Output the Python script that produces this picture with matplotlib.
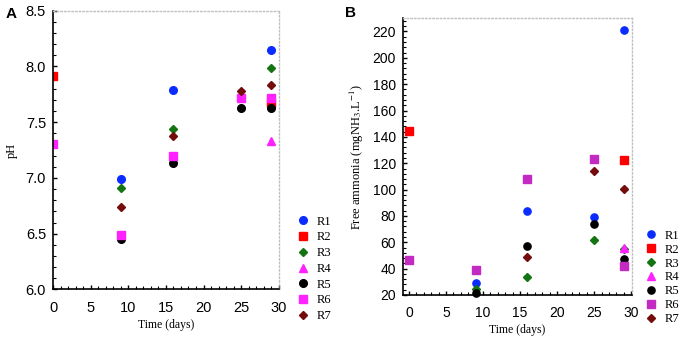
import numpy as np
import matplotlib
matplotlib.use("Agg")
import matplotlib.pyplot as plt
from matplotlib.ticker import MultipleLocator

nan = np.nan

# sampling days
days = [0, 9, 16, 25, 29]
reactors = ["R1", "R2", "R3", "R4", "R5", "R6", "R7"]

# panel A : pH
ph_R1 = [nan, 6.99, 7.79, nan, 8.15]
ph_R2 = [7.91, nan, nan, nan, 7.67]
ph_R3 = [nan, 6.91, 7.44, nan, 7.99]
ph_R4 = [nan, nan, nan, nan, 7.33]
ph_R5 = [nan, 6.45, 7.13, 7.63, 7.63]
ph_R6 = [7.30, 6.49, 7.20, 7.72, 7.72]
ph_R7 = [nan, 6.74, 7.38, 7.78, 7.83]

# panel B : free ammonia (mg NH3/L)
fa_R1 = [nan, 29.4, 84.0, 79.0, 221.0]
fa_R2 = [144.3, nan, nan, nan, 122.5]
fa_R3 = [nan, 24.6, 34.0, 61.6, 55.0]
fa_R4 = [nan, nan, nan, nan, 55.3]
fa_R5 = [nan, 21.8, 57.3, 73.5, 47.2]
fa_R6 = [46.4, 39.3, 108.0, 123.5, 41.8]
fa_R7 = [nan, nan, 49.2, 114.4, 100.7]

ph_data = [ph_R1, ph_R2, ph_R3, ph_R4, ph_R5, ph_R6, ph_R7]
fa_data = [fa_R1, fa_R2, fa_R3, fa_R4, fa_R5, fa_R6, fa_R7]

markers = ["o", "s", "D", "^", "o", "s", "D"]
msizes = [5.5, 5.5, 4.2, 6, 5.5, 5.5, 4.2]
colA = ["#0a2cff", "#ff0000", "#127512", "#ff22ff", "#000000", "#ff22ff", "#740c0c"]
colB = ["#0a2cff", "#ff0000", "#127512", "#ff22ff", "#000000", "#c22ac2", "#740c0c"]

plt.rcParams["mathtext.fontset"] = "stix"

fig = plt.figure(figsize=(6.8, 3.43), dpi=100)
axA = fig.add_axes([0.078, 0.156, 0.332, 0.813])
axB = fig.add_axes([0.5926, 0.140, 0.3368, 0.8066])


def style(ax, ylab, ysize):
    for s in ["left", "bottom"]:
        ax.spines[s].set_color("black")
        ax.spines[s].set_linewidth(1.2)
    for s in ["top", "right"]:
        ax.spines[s].set_color("#c0c0c0")
        ax.spines[s].set_linestyle(":")
        ax.spines[s].set_linewidth(1.0)
    ax.tick_params(which="both", direction="in", top=False, right=False,
                   labelsize=10.5, labelfontfamily="Liberation Sans")
    ax.tick_params(axis="y", which="both", pad=5)
    ax.tick_params(axis="x", which="both", pad=8)
    ax.tick_params(which="major", length=3, width=1)
    ax.tick_params(which="minor", length=2, width=0.8)
    ax.xaxis.set_major_locator(MultipleLocator(5))
    ax.xaxis.set_minor_locator(MultipleLocator(1))
    ax.set_xlabel("Time (days)", family="Liberation Serif", fontsize=8.5)
    ax.set_ylabel(ylab, family="Liberation Serif", fontsize=ysize)


# --- A ---
for i in range(len(reactors)):
    axA.plot(days, ph_data[i], linestyle="none", marker=markers[i],
             ms=msizes[i], color=colA[i], mec=colA[i], label=reactors[i])
axA.set_xlim(0, 30)
axA.set_ylim(6.0, 8.5)
axA.yaxis.set_major_locator(MultipleLocator(0.5))
axA.yaxis.set_minor_locator(MultipleLocator(0.1))
axA.yaxis.set_major_formatter(matplotlib.ticker.FormatStrFormatter("%.1f"))
style(axA, "pH", 9)
axA.xaxis.labelpad = 3
axA.yaxis.labelpad = 6
axA.legend(loc="upper left", bbox_to_anchor=(0.437, 0.371), bbox_transform=fig.transFigure,
           frameon=False, prop={"family": "Liberation Serif", "size": 9},
           handlelength=1.0, handletextpad=0.6, labelspacing=0.3, borderpad=0, borderaxespad=0,
           numpoints=1)

# --- B ---
for i in range(len(reactors)):
    axB.plot(days, fa_data[i], linestyle="none", marker=markers[i],
             ms=msizes[i] - 0.3, color=colB[i], mec=colB[i], label=reactors[i], clip_on=False)
axB.set_xlim(-0.8, 30.1)
axB.set_ylim(20, 230)
axB.yaxis.set_major_locator(MultipleLocator(20))
axB.yaxis.set_minor_locator(MultipleLocator(4))
style(axB, "Free ammonia (mgNH$_3$.L$^{-1}$)", 9)
axB.tick_params(labelsize=10)
axB.xaxis.labelpad = 3
axB.yaxis.labelpad = 5
axB.legend(loc="upper left", bbox_to_anchor=(0.948, 0.33), bbox_transform=fig.transFigure,
           frameon=False, prop={"family": "Liberation Serif", "size": 9},
           handlelength=1.0, handletextpad=0.6, labelspacing=0.15, borderpad=0, borderaxespad=0,
           numpoints=1)

fig.text(0.008, 0.96, "A", fontsize=11, fontweight="bold", family="Liberation Sans", va="center")
fig.text(0.508, 0.962, "B", fontsize=11, fontweight="bold", family="Liberation Sans", va="center")

fig.savefig("out.png", dpi=100)
